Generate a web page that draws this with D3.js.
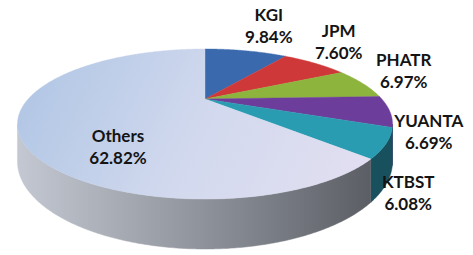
<!DOCTYPE html>
<html>
<head>
<meta charset="utf-8">
<script src="https://cdn.jsdelivr.net/npm/d3@7"></script>
<style>
  html, body { margin: 0; padding: 0; background: #ffffff; }
  svg { display: block; }
  text { font-family: Lato, "Open Sans", sans-serif; font-weight: 700; font-size: 17px; fill: #141414; }
</style>
</head>
<body>
<svg id="chart" width="473" height="255"></svg>
<script>
// ---- data ----
const categories = ["KGI", "JPM", "PHATR", "YUANTA", "KTBST", "Others"];
const values = [9.84, 7.60, 6.97, 6.69, 6.08, 62.82];
const valueLabels = ["9.84%", "7.60%", "6.97%", "6.69%", "6.08%", "62.82%"];

// ---- styles ----
const topColors = ["#3b69ad", "#cf3838", "#8db43c", "#6d3d9b", "#2a9cb1", "url(#othersTop)"];
const sideColors = ["#24457a", "#8a2222", "#5d7a25", "#3f2060", "#18505e", "url(#othersSide)"];
// label nudges relative to the slice's rim point (layout only)
const labelNudge = [[23, -30], [24, -26], [41, -17], [39, 16], [22, 45], [0, 29]];

// ---- geometry (perspective projection of a tilted disk) ----
const cx = 205, cy = 99;       // projected pie centre
const A = 176.8, B = 66.7;     // horizontal / vertical radii factors
const persp = 1 / 3;           // perspective strength
const T = 33.3;                // thickness

function proj(a, r, depth) {
  const th = a - Math.PI / 2;
  const d = 1 - persp * r * Math.sin(th);
  return [cx + A * r * Math.cos(th) / d, cy + (B * r * Math.sin(th) + depth * T) / d];
}

const svg = d3.select("#chart");
const defs = svg.append("defs");
const gTop = defs.append("linearGradient").attr("id", "othersTop")
  .attr("gradientUnits", "userSpaceOnUse").attr("x1", 40).attr("y1", 60).attr("x2", 330).attr("y2", 200);
gTop.append("stop").attr("offset", 0).attr("stop-color", "#b2c7e5");
gTop.append("stop").attr("offset", 0.55).attr("stop-color", "#d2d9ee");
gTop.append("stop").attr("offset", 1).attr("stop-color", "#e0def0");
const gSide = defs.append("linearGradient").attr("id", "othersSide")
  .attr("gradientUnits", "userSpaceOnUse").attr("x1", 17).attr("y1", 0).attr("x2", 380).attr("y2", 0);
gSide.append("stop").attr("offset", 0).attr("stop-color", "#c4c8d2");
gSide.append("stop").attr("offset", 0.45).attr("stop-color", "#959aa2");
gSide.append("stop").attr("offset", 1).attr("stop-color", "#595b62");

const pie = d3.pie().sort(null).value(d => d).startAngle(0).endAngle(2 * Math.PI);
const arcs = pie(values);
const line = d3.line();
const step = Math.PI / 360;

function sample(a0, a1) {
  const n = Math.max(2, Math.ceil(Math.abs(a1 - a0) / step));
  return d3.range(n + 1).map(i => a0 + (a1 - a0) * i / n);
}

// visible wall range: between the two widest points
const widestTh = Math.asin(persp);
const visA0 = widestTh + Math.PI / 2;
const visA1 = Math.PI - widestTh + Math.PI / 2;

const walls = svg.append("g");
arcs.forEach((d, i) => {
  const a0 = Math.max(d.startAngle, visA0), a1 = Math.min(d.endAngle, visA1);
  if (a1 <= a0) return;
  const angs = sample(a0, a1);
  const pts = angs.map(a => proj(a, 1, 0)).concat(angs.slice().reverse().map(a => proj(a, 1, 1)));
  walls.append("path").attr("d", line(pts) + "Z")
    .attr("fill", sideColors[i]).attr("stroke", sideColors[i]).attr("stroke-width", 0.5);
});

const tops = svg.append("g");
arcs.forEach((d, i) => {
  const pts = [proj(0, 0, 0)].concat(sample(d.startAngle, d.endAngle).map(a => proj(a, 1, 0)));
  tops.append("path").attr("d", line(pts) + "Z")
    .attr("fill", topColors[i]).attr("stroke", topColors[i]).attr("stroke-width", 0.4);
});

const labels = svg.append("g");
arcs.forEach((d, i) => {
  const mid = (d.startAngle + d.endAngle) / 2;
  const inside = i === arcs.length - 1;
  const p = proj(mid, inside ? 0.5 : 1, 0);
  const x = p[0] + labelNudge[i][0], y = p[1] + labelNudge[i][1];
  const t = labels.append("text").attr("text-anchor", "middle");
  t.append("tspan").attr("x", x).attr("y", y).text(categories[i]);
  t.append("tspan").attr("x", x).attr("y", y + 22).text(valueLabels[i]);
});
</script>
</body>
</html>
